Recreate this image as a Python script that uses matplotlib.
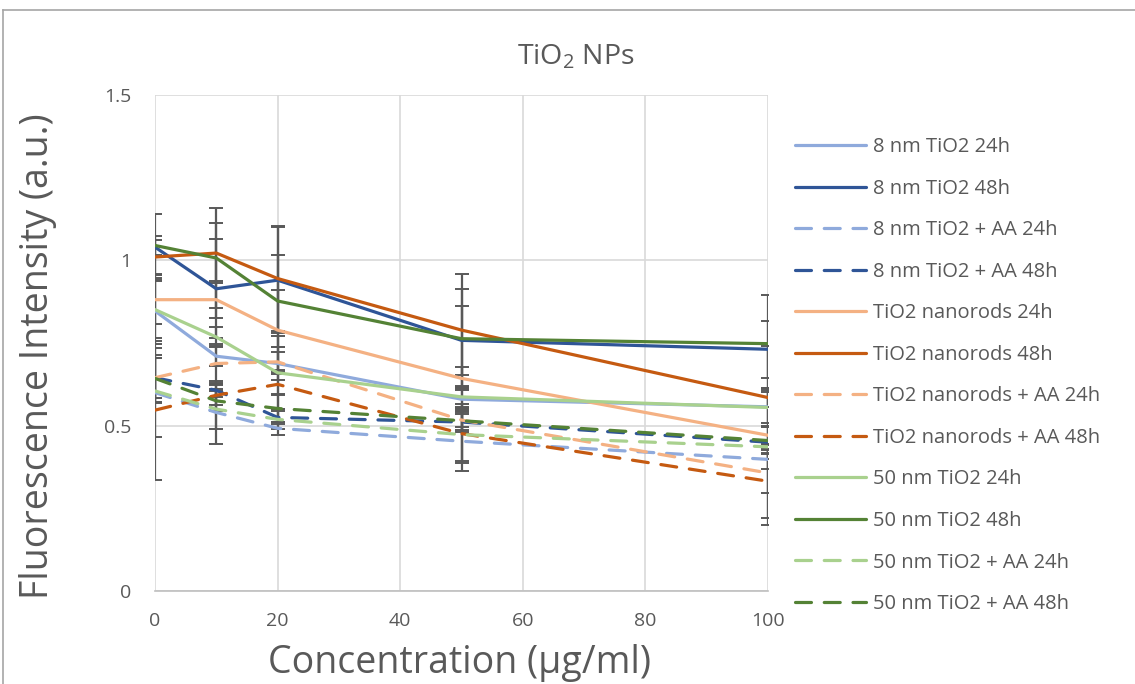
import numpy as np
import matplotlib.pyplot as plt
from matplotlib.lines import Line2D

plt.rcParams['font.family'] = ['Open Sans', 'DejaVu Sans']
plt.rcParams['mathtext.fontset'] = 'custom'
plt.rcParams['mathtext.rm'] = 'Open Sans'

# concentrations (ug/ml)
conc = [0, 10, 20, 50, 100]

# mean fluorescence per series
nm8_24 = [0.847, 0.71, 0.688, 0.58, 0.557]
nm8_48 = [1.04, 0.914, 0.94, 0.758, 0.731]
nm8_aa_24 = [0.60, 0.54, 0.492, 0.453, 0.398]
nm8_aa_48 = [0.645, 0.607, 0.525, 0.511, 0.45]
rod_24 = [0.881, 0.881, 0.789, 0.643, 0.471]
rod_48 = [1.01, 1.022, 0.945, 0.789, 0.585]
rod_aa_24 = [0.645, 0.688, 0.693, 0.517, 0.357]
rod_aa_48 = [0.547, 0.592, 0.625, 0.476, 0.332]
nm50_24 = [0.851, 0.768, 0.66, 0.587, 0.555]
nm50_48 = [1.045, 1.007, 0.877, 0.763, 0.748]
nm50_aa_24 = [0.605, 0.55, 0.519, 0.473, 0.436]
nm50_aa_48 = [0.643, 0.575, 0.552, 0.515, 0.455]

# error bar half widths
err_nm8_24 = [0.10, 0.03, 0.05, 0.03, 0.05]
err_nm8_48 = [0.10, 0.15, 0.16, 0.105, 0.086]
err_nm8_aa_24 = [0.135, 0.095, 0.02, 0.09, 0.03]
err_nm8_aa_48 = [0.06, 0.02, 0.02, 0.03, 0.05]
err_rod_24 = [0.075, 0.055, 0.12, 0.035, 0.27]
err_rod_48 = [0.05, 0.09, 0.16, 0.17, 0.03]
err_rod_aa_24 = [0.06, 0.06, 0.03, 0.03, 0.06]
err_rod_aa_48 = [0.21, 0.03, 0.03, 0.09, 0.11]
err_nm50_24 = [0.085, 0.03, 0.11, 0.03, 0.06]
err_nm50_48 = [0.03, 0.152, 0.14, 0.15, 0.146]
err_nm50_aa_24 = [0.035, 0.06, 0.03, 0.08, 0.01]
err_nm50_aa_48 = [0.07, 0.03, 0.04, 0.02, 0.04]

labels = ['8 nm TiO2 24h', '8 nm TiO2 48h', '8 nm TiO2 + AA 24h', '8 nm TiO2 + AA 48h',
          'TiO2 nanorods 24h', 'TiO2 nanorods 48h', 'TiO2 nanorods + AA 24h', 'TiO2 nanorods + AA 48h',
          '50 nm TiO2 24h', '50 nm TiO2 48h', '50 nm TiO2 + AA 24h', '50 nm TiO2 + AA 48h']
values = [nm8_24, nm8_48, nm8_aa_24, nm8_aa_48, rod_24, rod_48, rod_aa_24, rod_aa_48,
          nm50_24, nm50_48, nm50_aa_24, nm50_aa_48]
errors = [err_nm8_24, err_nm8_48, err_nm8_aa_24, err_nm8_aa_48, err_rod_24, err_rod_48,
          err_rod_aa_24, err_rod_aa_48, err_nm50_24, err_nm50_48, err_nm50_aa_24, err_nm50_aa_48]
colors = ['#8FAADC', '#2F5597', '#8FAADC', '#2F5597',
          '#F4B183', '#C55A11', '#F4B183', '#C55A11',
          '#A9D18E', '#548235', '#A9D18E', '#548235']
dashed = [False, False, True, True] * 3

GRAY = '#595959'

fig = plt.figure(figsize=(11.35, 6.84), dpi=100)
ax = fig.add_axes([155 / 1135, 1 - 591 / 684, 613 / 1135, 496 / 684])

for i in range(len(labels)):
    ax.errorbar(conc, values[i], yerr=errors[i], fmt='none', ecolor=GRAY,
                elinewidth=1.6, capsize=5, capthick=1.4, zorder=2)

for i in range(len(labels)):
    ls = (0, (5, 4)) if dashed[i] else '-'
    ax.plot(conc, values[i], color=colors[i], lw=2.3, ls=ls, label=labels[i],
            dash_capstyle='round', solid_capstyle='round', zorder=3)

ax.set_xlim(0, 100)
ax.set_ylim(0, 1.5)
ax.set_xticks([0, 20, 40, 60, 80, 100])
ax.set_yticks([0, 0.5, 1, 1.5])
ax.set_yticklabels(['0', '0.5', '1', '1.5'])
ax.grid(True, color='#D9D9D9', lw=1.2)
ax.set_axisbelow(True)
for s in ['top', 'right', 'left']:
    ax.spines[s].set_visible(False)
ax.spines['bottom'].set_color('#BFBFBF')
ax.spines['bottom'].set_linewidth(1.2)
ax.tick_params(length=0, labelsize=14, colors=GRAY)
ax.tick_params(axis='x', pad=15)
ax.tick_params(axis='y', pad=17)

fig.text(460 / 1135, 1 - 663 / 684, 'Concentration (µg/ml)', ha='center', va='center',
         fontsize=27, color=GRAY)
fig.text(38 / 1135, 1 - 356 / 684, 'Fluorescence Intensity (a.u.)', ha='center', va='center',
         rotation=90, fontsize=27, color=GRAY)
fig.text(576 / 1135, 1 - 57 / 684, 'TiO$_2$ NPs', ha='center', va='center',
         fontsize=20.5, color=GRAY)

fig.legend(loc='upper left', bbox_to_anchor=(787 / 1135, 1 - 129 / 684), frameon=False,
           fontsize=14.5, labelcolor=GRAY, handlelength=3.5, handletextpad=0.35,
           labelspacing=1.07, borderaxespad=0)

# chart area border
fig.add_artist(Line2D([3 / 1135, 1], [1 - 10 / 684, 1 - 10 / 684], color='#A6A6A6', lw=1.2))
fig.add_artist(Line2D([3 / 1135, 3 / 1135], [0, 1 - 10 / 684], color='#A6A6A6', lw=1.2))

fig.savefig('out.png', dpi=100)
